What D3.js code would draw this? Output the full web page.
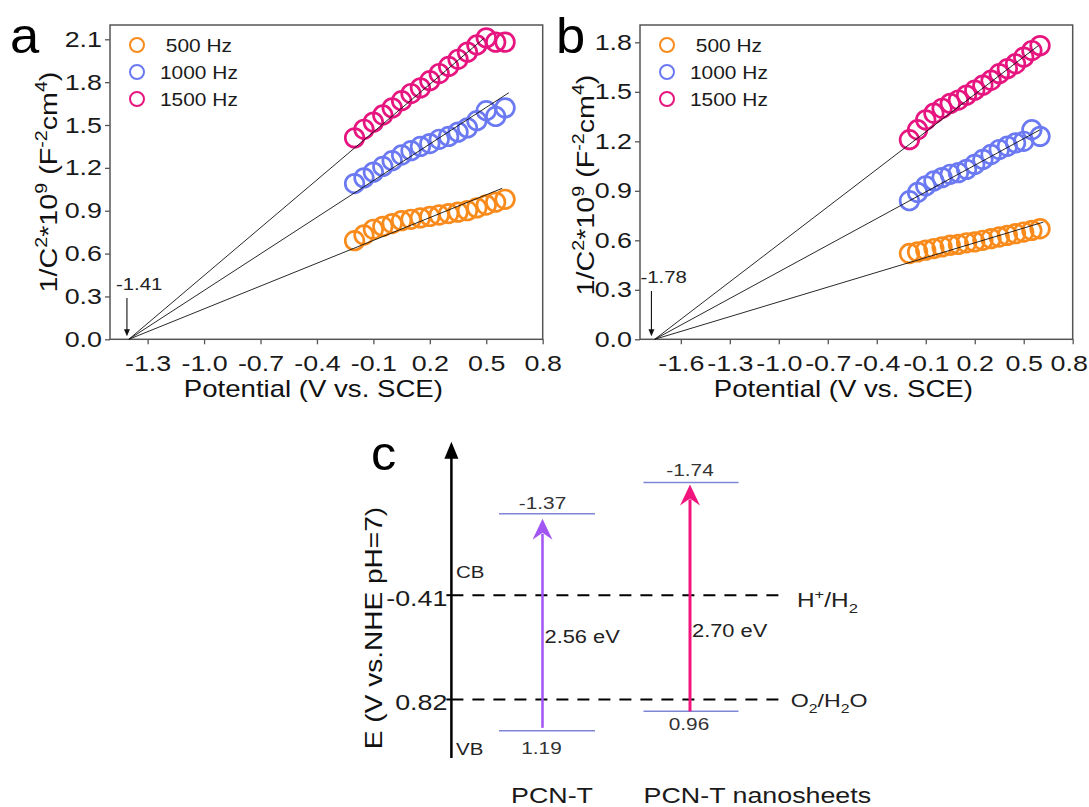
<!DOCTYPE html>
<html><head><meta charset="utf-8">
<script src="https://cdn.jsdelivr.net/npm/d3@7/dist/d3.min.js"></script>
<style>body{margin:0;background:#fff}svg{display:block}</style>
</head><body>
<svg id="chart" width="1089" height="807"></svg>
<script>
// ---------- DATA ----------
const freqLabels = [" 500 Hz", "1000 Hz", "1500 Hz"];
const seriesColors = ["#f98b1c", "#6b79f2", "#e6157f"];
const potentials = [-0.2,-0.15,-0.1,-0.05,0.0,0.05,0.1,0.15,0.2,0.25,0.3,0.35,0.4,0.45,0.5,0.55,0.6];
// panel a
const a500  = [0.69,0.73,0.77,0.79,0.81,0.83,0.84,0.85,0.86,0.87,0.88,0.89,0.90,0.92,0.94,0.96,0.98];
const a1000 = [1.09,1.13,1.17,1.21,1.25,1.29,1.32,1.35,1.37,1.40,1.42,1.45,1.48,1.53,1.60,1.56,1.62];
const a1500 = [1.41,1.47,1.52,1.57,1.62,1.67,1.72,1.76,1.81,1.86,1.91,1.96,2.01,2.06,2.11,2.08,2.08];
const aFitOrigin = -1.40;
const aFitEnds = [[0.585,1.057],[0.62,1.726],[0.487,2.106]];
const aFlatband = -1.41;
// panel b
const b500  = [0.52,0.53,0.54,0.55,0.56,0.57,0.575,0.585,0.59,0.60,0.61,0.62,0.63,0.64,0.65,0.66,0.67];
const b1000 = [0.84,0.89,0.93,0.96,0.98,1.00,1.01,1.03,1.06,1.09,1.12,1.15,1.17,1.19,1.20,1.27,1.23];
const b1500 = [1.21,1.27,1.33,1.37,1.40,1.43,1.45,1.48,1.51,1.54,1.57,1.61,1.64,1.67,1.71,1.75,1.78];
const bFitOrigin = -1.76;
const bFitEnds = [[0.62,0.71],[0.6,1.27],[0.59,1.78]];
const bFlatband = -1.78;
// ticks
const aXTicks = [-1.3,-1.0,-0.7,-0.4,-0.1,0.2,0.5,0.8];
const aYTicks = [0,0.3,0.6,0.9,1.2,1.5,1.8,2.1];
const bXTicks = [-1.6,-1.3,-1.0,-0.7,-0.4,-0.1,0.2,0.5,0.8];
const bYTicks = [0,0.3,0.6,0.9,1.2,1.5,1.8];
// panel c
const materials = ["PCN-T", "PCN-T nanosheets"];
const cbLevels = [-1.37, -1.74];
const vbLevels = [1.19, 0.96];
const gapLabels = ["2.56 eV", "2.70 eV"];
const arrowColors = ["#a155f3", "#f0147c"];
const refPotentials = [-0.41, 0.82];
const refTickLabels = ["-0.41", "0.82"];

// ---------- HELPERS ----------
const FONT = "'Liberation Sans', Arial, sans-serif";
const svg = d3.select("#chart").attr("font-family", FONT);
svg.append("rect").attr("width",1089).attr("height",807).attr("fill","#fff");

function stext(parent, x, y, parts, o) {
  const size = o.size, sx = o.sx || 1.2;
  const g = parent.append("g").attr("transform", `translate(${x},${y}) rotate(${o.rot||0}) scale(${sx},1)`);
  const t = g.append("text").attr("text-anchor", o.anchor || "start")
    .attr("font-size", size).attr("fill", o.fill || "#111")
    .style("white-space", "pre");
  if (typeof parts === "string") parts = [parts];
  let shift = 0;
  parts.forEach(p => {
    const [s, k] = typeof p === "string" ? [p, null] : p;
    const target = k === "sup" ? -size*0.42 : k === "sub" ? size*0.28 : 0;
    t.append("tspan").attr("dy", target - shift).attr("font-size", k ? size*0.68 : size).text(s);
    shift = target;
  });
  return g;
}

const fmt = d => d.toFixed(1);

function cvPanel(cfg) {
  const x = d3.scaleLinear().domain(cfg.xDomain).range([cfg.left, cfg.right]);
  const y = d3.scaleLinear().domain(cfg.yDomain).range([cfg.bottom, cfg.top]);
  const g = svg.append("g");
  const TS = 1.22, FS = 22;
  const xa = g.append("g").attr("transform", `translate(0,${cfg.bottom})`)
    .call(d3.axisBottom(x).tickValues(cfg.xTicks).tickSize(5).tickPadding(11).tickFormat(fmt));
  const ya = g.append("g").attr("transform", `translate(${cfg.left},0)`)
    .call(d3.axisLeft(y).tickValues(cfg.yTicks).tickSize(5).tickPadding(3).tickFormat(fmt));
  [xa, ya].forEach(a => {
    a.select(".domain").remove();
    a.selectAll(".tick line").attr("stroke", "#555").attr("stroke-width", 1.3);
    a.selectAll("text").attr("font-family", FONT).attr("font-size", FS).attr("fill", "#1a1a1a");
  });
  xa.selectAll("text").attr("transform", `scale(${TS},1)`);
  if (cfg.lastLabelShift) {
    xa.selectAll(".tick text").filter((d, i, n) => i === n.length - 1).attr("x", cfg.lastLabelShift / TS);
  }
  ya.selectAll("text").attr("transform", `scale(${TS},1)`).attr("x", -8/TS);
  g.append("rect").attr("x", cfg.left).attr("y", cfg.top)
    .attr("width", cfg.right - cfg.left).attr("height", cfg.bottom - cfg.top)
    .attr("fill", "none").attr("stroke", "#555").attr("stroke-width", 1.5);
  cfg.series.forEach((vals, i) => {
    g.append("g").selectAll("circle").data(vals).join("circle")
      .attr("cx", (d, j) => x(potentials[j])).attr("cy", d => y(d))
      .attr("r", 9.3).attr("fill", "none").attr("stroke", seriesColors[i]).attr("stroke-width", 2.7);
  });
  cfg.fitEnds.forEach(e => {
    g.append("line").attr("x1", x(cfg.fitOrigin)).attr("y1", y(0))
      .attr("x2", x(e[0])).attr("y2", y(e[1]))
      .attr("stroke", "#111").attr("stroke-width", 0.9);
  });
  const fx = x(cfg.flatband);
  g.append("line").attr("x1", fx).attr("x2", fx).attr("y1", cfg.arrowTop).attr("y2", y(0) - 9)
    .attr("stroke", "#111").attr("stroke-width", 1.1);
  g.append("path").attr("d", `M${fx-3},${y(0)-10} L${fx+3},${y(0)-10} L${fx},${y(0)-3} Z`).attr("fill", "#111");
  stext(g, fx - 11, cfg.arrowTop - 8, cfg.flatband.toFixed(2), {size: 17, sx: 1.2, fill: "#222"});
  freqLabels.forEach((lab, i) => {
    const ly = cfg.top + 20 + i * 27;
    g.append("circle").attr("cx", cfg.left + 27).attr("cy", ly).attr("r", 7)
      .attr("fill", "none").attr("stroke", seriesColors[i]).attr("stroke-width", 2);
    stext(g, cfg.left + 50, ly + 7, lab, {size: 19, sx: 1.1, fill: "#1a1a1a"});
  });
  stext(g, (cfg.left + cfg.right)/2 - 13, 397, "Potential (V vs. SCE)", {size: 23, sx: 1.2, anchor: "middle"});
  stext(g, cfg.yTitleX, cfg.yTitleY,
    ["1/C", ["2","sup"], "*10", ["9","sup"], " (F", ["-2","sup"], "cm", ["4","sup"], ")"],
    {size: 23, sx: 1.25, anchor: "middle", rot: -90});
  stext(svg, cfg.letterX, 53, cfg.letter, {size: 50, sx: 1.05, fill: "#000"});
}

cvPanel({letter: "a", letterX: 10, left: 110, right: 542.7, top: 25, bottom: 339.3,
  xDomain: [-1.5, 0.8], yDomain: [0, 2.2], xTicks: aXTicks, yTicks: aYTicks,
  series: [a500, a1000, a1500], fitOrigin: aFitOrigin, fitEnds: aFitEnds,
  flatband: aFlatband, arrowTop: 298, yTitleX: 57, yTitleY: 182});
cvPanel({letter: "b", letterX: 556, left: 640, right: 1072.7, top: 25, bottom: 339.3,
  xDomain: [-1.85, 0.8], yDomain: [0, 1.905], xTicks: bXTicks, yTicks: bYTicks,
  series: [b500, b1000, b1500], fitOrigin: bFitOrigin, fitEnds: bFitEnds,
  flatband: bFlatband, arrowTop: 291, yTitleX: 594, yTitleY: 185, lastLabelShift: -4});

// ---------- PANEL C ----------
const gc = svg.append("g");
const yc = d3.scaleLinear().domain([-2.22, 1.51]).range([441.7, 758]);
const axisX = 451.4;
const colCenters = [547, 691], colHalf = [48, 47.5], arrowXs = [542.5, 690];
refPotentials.forEach(v => {
  gc.append("line").attr("x1", axisX).attr("x2", 783).attr("y1", yc(v)).attr("y2", yc(v))
    .attr("stroke", "#000").attr("stroke-width", 2).attr("stroke-dasharray", "12,9");
  gc.append("line").attr("x1", axisX - 5).attr("x2", axisX).attr("y1", yc(v)).attr("y2", yc(v))
    .attr("stroke", "#000").attr("stroke-width", 2);
});
refTickLabels.forEach((lab, i) => {
  stext(gc, axisX - 4, yc(refPotentials[i]) + 11, lab, {size: 22, sx: 1.22, anchor: "end", fill: "#1a1a1a"});
});
gc.append("line").attr("x1", axisX).attr("x2", axisX).attr("y1", yc(1.51)).attr("y2", yc(-2.22) + 12)
  .attr("stroke", "#000").attr("stroke-width", 2.5);
gc.append("path").attr("d", `M${axisX-7},${yc(-2.22)+17} L${axisX+7},${yc(-2.22)+17} L${axisX},${yc(-2.22)} Z`).attr("fill", "#000");
stext(gc, 382, 628, "E (V vs.NHE pH=7)", {size: 23, sx: 1.22, anchor: "middle", rot: -90});
stext(gc, 371, 470, "c", {size: 48, sx: 1.05, fill: "#000"});
stext(gc, 456, 578, "CB", {size: 16, sx: 1.28, fill: "#222"});
stext(gc, 456, 755, "VB", {size: 16, sx: 1.28, fill: "#222"});
stext(gc, 797, yc(-0.41) + 12, ["H", ["+","sup"], "/H", ["2","sub"]], {size: 20, sx: 1.22, fill: "#222"});
stext(gc, 790.7, yc(0.82) + 8, ["O", ["2","sub"], "/H", ["2","sub"], "O"], {size: 19, sx: 1.22, fill: "#222"});
const cbOff = [-5, -6.6], vbOff = [23, 18.5], gapY = [643.3, 636.7];
materials.forEach((m, i) => {
  [cbLevels[i], vbLevels[i]].forEach(v => {
    gc.append("line").attr("x1", colCenters[i] - colHalf[i]).attr("x2", colCenters[i] + colHalf[i])
      .attr("y1", yc(v)).attr("y2", yc(v)).attr("stroke", "#7f86d6").attr("stroke-width", 1.5);
  });
  const ax = arrowXs[i];
  const yTop = yc(cbLevels[i]) + (i === 0 ? 5 : 2);
  const yBot = yc(vbLevels[i]) - (i === 0 ? 3 : 0);
  gc.append("line").attr("x1", ax).attr("x2", ax).attr("y1", yBot).attr("y2", yTop + 15)
    .attr("stroke", arrowColors[i]).attr("stroke-width", i === 0 ? 2.5 : 3);
  gc.append("path").attr("d", `M${ax-10},${yTop+21} L${ax},${yTop+14} L${ax+10},${yTop+21} L${ax},${yTop} Z`)
    .attr("fill", arrowColors[i]);
  stext(gc, ax, yc(cbLevels[i]) + cbOff[i], cbLevels[i].toFixed(2), {size: 16, sx: 1.3, anchor: "middle", fill: "#333"});
  stext(gc, ax - 1, yc(vbLevels[i]) + vbOff[i], vbLevels[i].toFixed(2), {size: 16, sx: 1.3, anchor: "middle", fill: "#333"});
  stext(gc, ax + 2, gapY[i], gapLabels[i], {size: 19, sx: 1.15, fill: "#222"});
});
stext(gc, 552, 803, materials[0], {size: 22, sx: 1.22, anchor: "middle", fill: "#1a1a1a"});
stext(gc, 643.6, 803, materials[1], {size: 22, sx: 1.22, fill: "#1a1a1a"});
</script>
</body></html>
